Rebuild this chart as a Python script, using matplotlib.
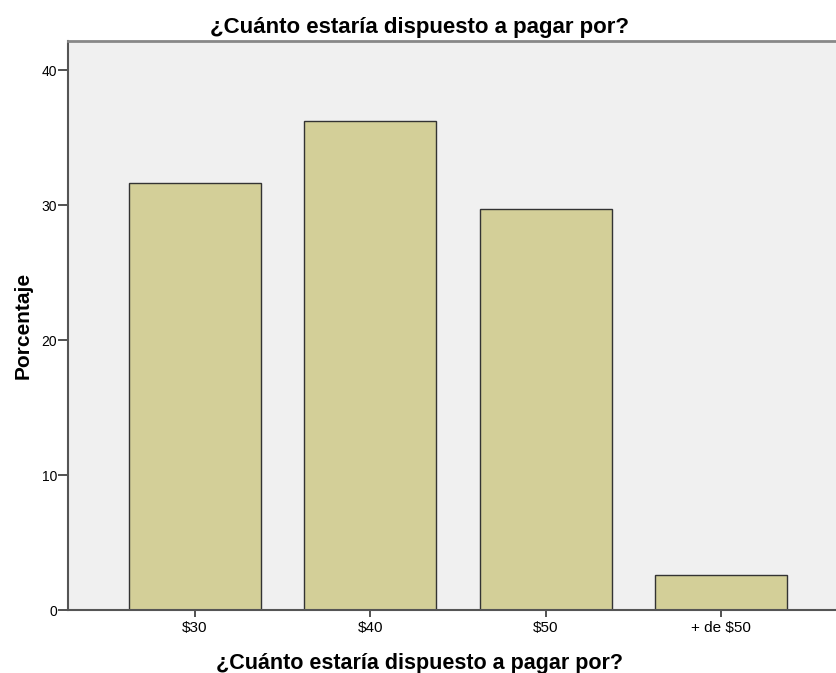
import numpy as np
import matplotlib.pyplot as plt

plt.rcParams['font.family'] = ['Liberation Sans', 'DejaVu Sans']

categories = ['$30', '$40', '$50', '+ de $50']
percent = [31.6, 36.2, 29.7, 2.6]
title = '¿Cuánto estaría dispuesto a pagar por?'

fig = plt.figure(figsize=(8.36, 6.73), dpi=100)
ax = fig.add_axes([68 / 836, 63 / 673, 768 / 836, 569 / 673])
ax.set_facecolor('#F0F0F0')

x = np.arange(len(categories))
ax.bar(x, percent, width=0.753, color='#D3CF98', edgecolor='#333333', linewidth=1.0, zorder=2)

ax.set_xlim(-0.724, 3.656)
ax.set_ylim(0, 42.15)
ax.set_xticks(x)
ax.set_xticklabels(categories)
ax.set_yticks([0, 10, 20, 30, 40])
ax.tick_params(axis='both', direction='out', width=1.2, colors='#333333', labelcolor='black')
ax.tick_params(axis='x', length=5, labelsize=11, pad=3)
ax.tick_params(axis='y', length=7, labelsize=10, pad=1)

ax.spines['right'].set_visible(False)
ax.spines['top'].set_color('#888888')
ax.spines['top'].set_linewidth(2)
for s in ['left', 'bottom']:
    ax.spines[s].set_color('#555555')
    ax.spines[s].set_linewidth(1.5)

# title and x label are centred on the whole chart, not the plot area
xc = (420 - 68) / 768
ax.set_ylabel('Porcentaje', fontsize=15, fontweight='bold', labelpad=6)
ax.set_xlabel(title, fontsize=15.5, fontweight='bold', labelpad=13, x=xc)
ax.set_title(title, fontsize=16, fontweight='bold', pad=6, x=xc)

fig.savefig('out.png', dpi=100)
